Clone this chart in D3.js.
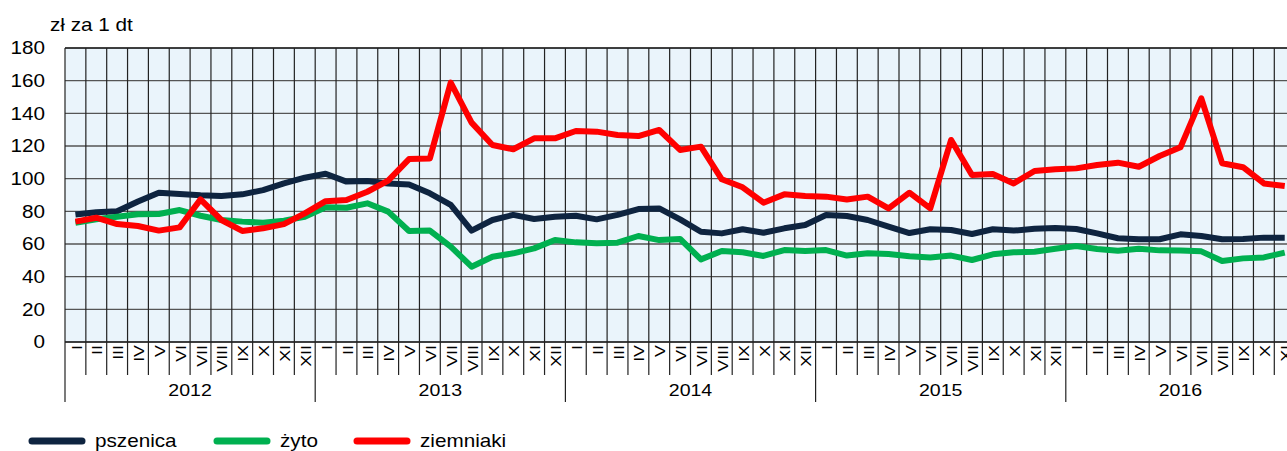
<!DOCTYPE html>
<html>
<head>
<meta charset="utf-8">
<script src="https://cdn.jsdelivr.net/npm/d3@7"></script>
<style>
body { margin: 0; overflow: hidden; background: #fff; }
text { font-family: "Liberation Sans", Arial, sans-serif; fill: #000; }
</style>
</head>
<body>
<script>

// monthly prices, zł za 1 dt, I 2012 - XI 2016
var years = ["2012", "2013", "2014", "2015", "2016"]
var monthNames = ["I","II","III","IV","V","VI","VII","VIII","IX","X","XI","XII"]

var pszenica = [
	78, 79.5, 80, 86, 91.4, 90.6, 89.8, 89.4, 90.4, 93, 97.1, 100.6,
	103, 98.2, 98.6, 97.1, 96.5, 91, 83.9, 68.2, 74.7, 77.8, 75.3, 76.7,
	77.3, 75.1, 77.8, 81.4, 81.8, 75.1, 67.5, 66.5, 69, 66.9, 69.6, 71.6,
	77.8, 77.1, 74.7, 70.6, 66.7, 69, 68.6, 66.1, 69, 68.2, 69.4, 69.8,
	69.2, 66.5, 63.5, 62.9, 62.9, 65.9, 64.9, 62.9, 63.1, 63.9, 63.9]

var zyto = [
	73, 75.1, 76.7, 78.2, 78.4, 80.8, 77.3, 74.7, 73.7, 73, 74.3, 76.7,
	82.5, 82.2, 84.9, 79.8, 68, 68.2, 58.4, 46.1, 52.2, 54.3, 57.3, 62.4,
	61, 60.4, 60.8, 64.9, 62.4, 63.1, 50.6, 55.7, 54.9, 52.7, 56.3, 55.7,
	56.3, 52.9, 54.3, 53.9, 52.5, 51.8, 52.9, 50.2, 53.7, 54.9, 55.3, 57.1,
	58.8, 56.9, 55.9, 57.1, 56.1, 56, 55.5, 49.6, 51.2, 51.8, 54.7]

var ziemniaki = [
	73.7, 76.1, 72.2, 71, 68.2, 70.2, 87.3, 74.7, 68, 69.6, 72.2, 78.8,
	86.2, 86.9, 92, 98.8, 112, 112.4, 158.8, 134.3, 120.6, 118, 124.7, 124.7,
	129.2, 128.8, 126.7, 126.1, 129.8, 117.6, 119.6, 99.6, 94.7, 85.3, 90.4, 89.4,
	89, 87.3, 89, 81.8, 91.4, 81.8, 123.7, 102.2, 102.9, 97.1, 104.7, 105.7,
	106.3, 108.4, 109.8, 107.3, 113.9, 119.2, 149.2, 109.4, 107, 97.1, 95.5]

var yTicks = [0, 20, 40, 60, 80, 100, 120, 140, 160, 180]

var seriesNames = ["pszenica", "żyto", "ziemniaki"]
var seriesColors = ["#0e2440", "#00b050", "#ff0000"]

// text in the original is a bit wider than Liberation Sans
var stretch = 1.15

window.onload = function WindowLoad(event) {
	DrawChart()
}

function place(px, py){
	return "translate(" + px + "," + py + ") scale(" + stretch + ",1)"
}

function DrawChart(){
	var left = 65, top = 48, bottom = 342
	var monthW = 20.85
	var nMonths = pszenica.length
	var right = left + monthW * nMonths

	var months = []
	for (var i = 0; i < nMonths; i++) {
		months.push({ idx: i, name: monthNames[i % 12] })
	}

	var svg = d3.select("body").append("svg")
		.attr("width", 1320)
		.attr("height", 451)

	var x = d3.scaleLinear().domain([0, nMonths]).range([left, right])
	var y = d3.scaleLinear().domain([0, 180]).range([bottom, top])

	// plot background
	svg.append("rect")
		.attr("x", left).attr("y", top)
		.attr("width", right - left).attr("height", bottom - top)
		.style("fill", "#eaf4fb")

	// horizontal grid
	svg.selectAll("line.hgrid")
		.data(yTicks)
		.enter()
		.append("line")
		.attr("class", "hgrid")
		.attr("x1", left).attr("x2", right)
		.attr("y1", function(d){ return y(d) })
		.attr("y2", function(d){ return y(d) })
		.style("stroke", function(d){ return (d === 0 || d === 180) ? "#000" : "#555" })
		.style("stroke-width", function(d){ return (d === 0 || d === 180) ? 1.5 : 1.4 })

	// vertical grid + month ticks
	var bounds = d3.range(0, nMonths + 1)
	svg.selectAll("line.vgrid")
		.data(bounds)
		.enter()
		.append("line")
		.attr("class", "vgrid")
		.attr("x1", function(d){ return x(d) })
		.attr("x2", function(d){ return x(d) })
		.attr("y1", top)
		.attr("y2", function(d){ return (d % 12 === 0) ? 402 : 375 })
		.style("stroke", "#222")
		.style("stroke-width", 1.2)

	// y axis labels
	svg.selectAll("text.ylab")
		.data(yTicks)
		.enter()
		.append("text")
		.attr("class", "ylab")
		.attr("transform", function(d){ return place(45, y(d)) })
		.attr("dy", "0.36em")
		.attr("text-anchor", "end")
		.style("font-size", "18px")
		.text(function(d){ return d })

	svg.append("text")
		.attr("transform", place(50, 31))
		.style("font-size", "18px")
		.text("zł za 1 dt")

	// month labels, rotated
	svg.selectAll("text.mlab")
		.data(months)
		.enter()
		.append("text")
		.attr("class", "mlab")
		.attr("transform", function(d){
			return "translate(" + (x(d.idx + 0.5) + 0.5) + "," + 345 + ") rotate(-90) scale(" + stretch + ",1)"
		})
		.attr("dy", "0.36em")
		.attr("text-anchor", "end")
		.style("font-size", "15.5px")
		.text(function(d){ return d.name })

	// year labels
	svg.selectAll("text.yearlab")
		.data(years)
		.enter()
		.append("text")
		.attr("class", "yearlab")
		.attr("transform", function(d, i){
			var end = Math.min((i + 1) * 12, nMonths)
			return place(x((i * 12 + end) / 2), 396)
		})
		.attr("text-anchor", "middle")
		.style("font-size", "17px")
		.text(function(d){ return d })

	// lines
	var line = d3.line()
		.x(function(d, i){ return x(i + 0.5) })
		.y(function(d){ return y(d) })

	var allSeries = [pszenica, zyto, ziemniaki]
	svg.selectAll("path.series")
		.data(allSeries)
		.enter()
		.append("path")
		.attr("class", "series")
		.attr("d", function(d){ return line(d) })
		.style("fill", "none")
		.style("stroke", function(d, i){ return seriesColors[i] })
		.style("stroke-width", 6)
		.style("stroke-linejoin", "round")

	// legend
	var legendX = [30, 215, 355]
	var leg = svg.selectAll("g.legend")
		.data(seriesNames)
		.enter()
		.append("g")
		.attr("class", "legend")
		.attr("transform", function(d, i){ return "translate(" + legendX[i] + ",441)" })

	leg.append("line")
		.attr("x1", 2).attr("x2", 52)
		.attr("y1", 0).attr("y2", 0)
		.style("stroke", function(d, i){ return seriesColors[i] })
		.style("stroke-width", 7)
		.style("stroke-linecap", "round")

	leg.append("text")
		.attr("transform", place(65, 0))
		.attr("dy", "0.36em")
		.style("font-size", "18px")
		.text(function(d){ return d })
}

</script>
</body>
</html>
